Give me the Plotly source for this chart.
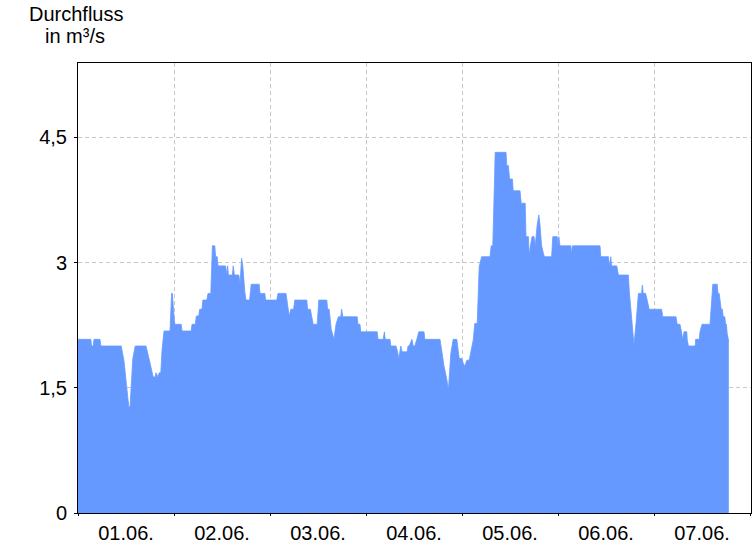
import pandas as pd
import plotly.graph_objects as go

# Breakpoints: hours after 01.06. 00:00 and discharge in m³/s
hours = [0, 3.2, 3.4, 3.8, 4.0, 5.5, 5.7, 10.8, 11.5, 12.7, 13.0, 13.7, 14.3, 17.0, 17.5, 18.3,
         18.8, 19.3, 19.5, 20.0, 20.3, 20.7, 21.0, 21.5, 23.0, 23.4, 23.6, 24.0, 24.2, 25.0,
         25.8, 26.0, 28.3, 28.5, 29.3, 29.6, 30.2, 30.4, 31.0, 31.2, 32.2, 32.5, 33.2, 33.6,
         34.2, 34.4, 34.8, 35.0, 36.9, 37.2, 37.4, 37.6, 38.6, 38.8, 39.1, 40.2, 40.5, 40.9,
         41.2, 41.7, 42.0, 42.9, 43.3, 45.3, 45.5, 46.7, 46.9, 49.7, 50.0, 52.0, 52.5, 52.8,
         53.2, 53.9, 54.2, 57.2, 57.4, 58.1, 58.4, 58.8, 59.8, 60.2, 62.2, 62.4, 62.8, 63.3,
         64.0, 64.5, 65.1, 65.7, 65.9, 66.2, 69.8, 70.0, 70.5, 70.7, 74.8, 75.0, 76.3, 76.6,
         76.8, 78.0, 78.2, 79.5, 79.9, 80.2, 80.7, 81.0, 82.3, 82.5, 82.8, 83.5, 83.8, 84.2,
         84.7, 85.2, 86.5, 86.7, 90.5, 90.9, 91.5, 92.2, 92.6, 93.2, 93.8, 94.7, 95.3, 95.9,
         96.5, 96.8, 97.2, 97.8, 98.4, 98.8, 99.2, 99.8, 100.3, 100.9, 103.0, 103.3, 103.7,
         104.3, 107.0, 107.2, 107.6, 107.9, 108.6, 108.8, 110.5, 110.8, 111.8, 112.0, 112.6,
         112.8, 113.1, 113.5, 114.0, 114.3, 114.8, 115.2, 115.5, 115.9, 116.5, 116.8, 118.4,
         118.7, 119.8, 120.0, 120.2, 120.5, 123.2, 123.4, 123.6, 130.5, 130.7, 132.6, 132.9,
         133.2, 133.4, 134.7, 135.1, 137.6, 137.8, 138.3, 139.0, 139.5, 140.1, 140.9, 141.1,
         141.3, 141.9, 142.3, 142.8, 145.9, 146.2, 149.5, 149.8, 150.5, 150.8, 151.2, 151.5,
         152.2, 152.3, 152.6, 154.3, 154.4, 155.3, 155.5, 156.0, 158.0, 158.7, 159.8, 160.0,
         160.3, 160.8, 161.1, 161.3, 161.7, 161.9, 162.1, 162.3, 162.7]
flow = [2.08, 2.08, 2.0, 2.0, 2.08, 2.08, 2.0, 2.0, 1.82, 1.27, 1.27, 1.85, 2.0, 2.0, 1.9, 1.75,
        1.63, 1.63, 1.68, 1.63, 1.68, 1.68, 1.95, 2.18, 2.18, 2.63, 2.63, 2.35, 2.26, 2.26,
        2.26, 2.18, 2.18, 2.26, 2.26, 2.36, 2.36, 2.44, 2.44, 2.55, 2.55, 2.63, 2.63, 3.2,
        3.2, 3.07, 3.07, 2.96, 2.96, 2.85, 2.96, 2.85, 2.85, 2.96, 2.85, 2.85, 2.75, 3.05,
        2.96, 2.65, 2.55, 2.55, 2.74, 2.74, 2.63, 2.63, 2.55, 2.55, 2.63, 2.63, 2.44, 2.36,
        2.44, 2.44, 2.55, 2.55, 2.44, 2.44, 2.36, 2.26, 2.26, 2.55, 2.55, 2.44, 2.44, 2.2,
        2.08, 2.26, 2.35, 2.35, 2.44, 2.35, 2.35, 2.26, 2.26, 2.17, 2.17, 2.08, 2.08, 2.17,
        2.08, 2.08, 2.0, 2.0, 1.93, 1.85, 2.0, 1.93, 1.93, 2.0, 2.0, 2.08, 2.0, 2.0,
        2.08, 2.17, 2.17, 2.08, 2.08, 1.93, 1.76, 1.6, 1.47, 1.91, 2.08, 2.08, 1.85, 1.85,
        1.77, 1.77, 1.83, 1.83, 1.99, 2.07, 2.27, 2.27, 2.95, 3.07, 3.07, 3.2, 3.2,
        4.32, 4.32, 4.16, 4.16, 4.0, 4.0, 3.86, 3.86, 3.71, 3.71, 3.31, 3.31,
        3.08, 3.2, 3.31, 3.31, 3.2, 3.45, 3.57, 3.45, 3.2, 3.08, 3.07, 3.07,
        3.31, 3.31, 3.2, 3.31, 3.2, 3.2, 3.1, 3.2, 3.2, 3.07, 3.07, 2.96,
        3.07, 2.96, 2.96, 2.85, 2.85, 2.67, 2.37, 2.01, 2.27, 2.63, 2.63, 2.73,
        2.63, 2.63, 2.55, 2.44, 2.44, 2.35, 2.35, 2.26, 2.26, 2.17, 2.08, 2.17,
        2.17, 2.08, 2.0, 2.0, 2.08, 2.08, 2.17, 2.26, 2.26, 2.74, 2.74, 2.63,
        2.63, 2.44, 2.44, 2.35, 2.35, 2.26, 2.26, 2.15, 2.05]

start = pd.Timestamp("2024-06-01 00:00")
times = [start + pd.Timedelta(hours=h) for h in hours]

y_ticks = [0, 1.5, 3, 4.5]
y_tick_labels = ["0", "1,5", "3", "4,5"]
title_lines = ["Durchfluss", "in m³/s"]

FONT = "Arial, Liberation Sans, sans-serif"
fill_color = "#6699ff"
grid_color = "#c8c8c8"
grid_dash = "4px,3px"

fig = go.Figure()
fig.add_trace(go.Scatter(
    x=times, y=flow, mode="lines", fill="tozeroy",
    line=dict(color=fill_color, width=0.8), fillcolor=fill_color,
    hoverinfo="x+y", showlegend=False,
))

fig.update_layout(
    width=756, height=546,
    margin=dict(l=78, r=5, t=63, b=33),
    paper_bgcolor="white", plot_bgcolor="white",
    font=dict(family=FONT, size=20, color="black"),
    xaxis=dict(
        type="date", automargin=False,
        range=[start, start + pd.Timedelta(hours=168.25)],
        tick0=start, dtick=86400000, tickformat="%d.%m.",
        ticklabelmode="period",
        showgrid=True, gridcolor=grid_color, griddash=grid_dash, gridwidth=1,
        showline=True, linecolor="black", linewidth=1, mirror=True,
        ticks="outside", ticklen=2, tickcolor="black", ticklabelstandoff=0,
        tickfont=dict(size=20),
        zeroline=False,
    ),
    yaxis=dict(
        automargin=False,
        range=[0, 5.39],
        tickvals=y_ticks, ticktext=y_tick_labels,
        showgrid=True, gridcolor=grid_color, griddash=grid_dash, gridwidth=1,
        showline=True, linecolor="black", linewidth=1, mirror=True,
        ticks="outside", ticklen=3, tickcolor="black",
        tickfont=dict(size=20), ticklabelstandoff=3,
        zeroline=False,
    ),
    annotations=[
        dict(text=title_lines[0], xref="paper", yref="paper",
             x=0, y=1, xanchor="center", yanchor="bottom", xshift=-2, yshift=36,
             showarrow=False, font=dict(size=20, family=FONT)),
        dict(text=title_lines[1], xref="paper", yref="paper",
             x=0, y=1, xanchor="center", yanchor="bottom", xshift=-3, yshift=14,
             showarrow=False, font=dict(size=20, family=FONT)),
    ],
)

fig.write_html("out.html", config={"displayModeBar": False},
               post_script="document.body.style.margin='0px';")
